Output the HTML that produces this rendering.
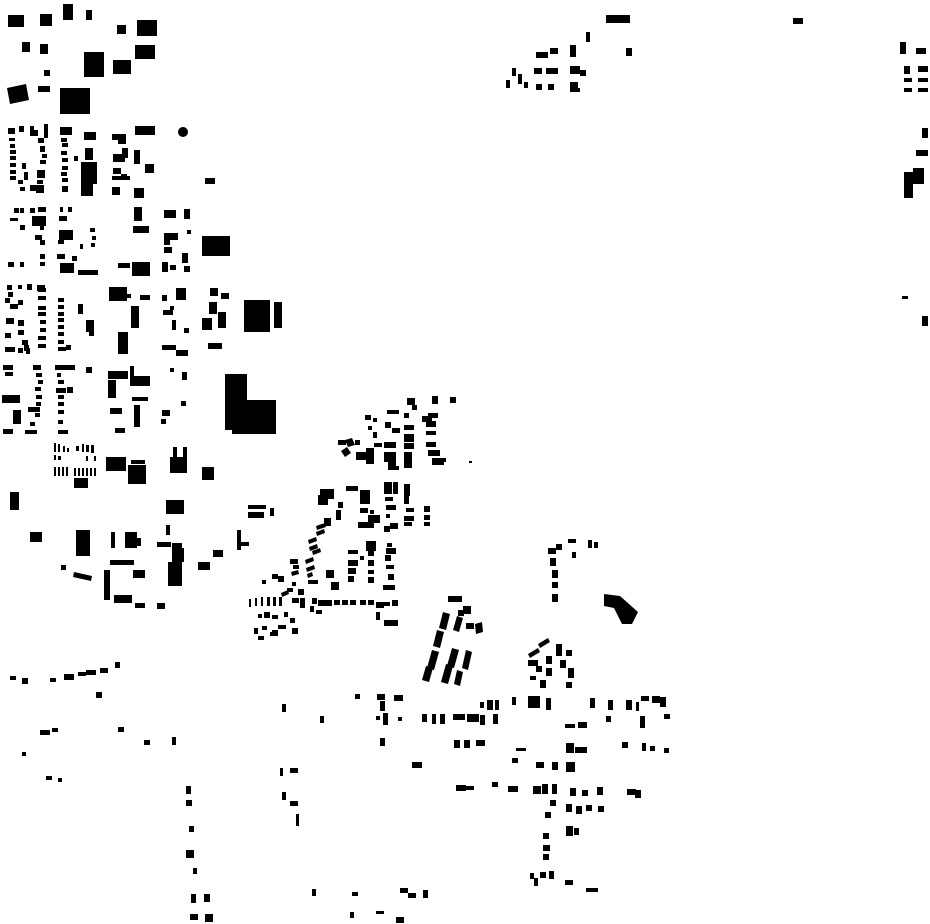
<!DOCTYPE html>
<html><head><meta charset="utf-8"><style>html,body{margin:0;padding:0;background:#fff;width:930px;height:924px;overflow:hidden}svg{display:block}</style></head>
<body>
<svg width="930" height="924" viewBox="0 0 930 924" xmlns="http://www.w3.org/2000/svg">
<g fill="#000">
<!-- top-left -->
<rect x="8" y="15" width="16" height="12"/><rect x="40" y="14" width="12" height="12"/><rect x="63" y="4" width="10" height="16"/><rect x="86" y="10" width="6" height="10"/><rect x="117" y="25" width="9" height="9"/><rect x="137" y="20" width="20" height="16"/>
<rect x="22" y="42" width="8" height="10"/><rect x="40" y="44" width="8" height="10"/><rect x="84" y="52" width="20" height="25"/><rect x="113" y="60" width="18" height="14"/><rect x="135" y="45" width="20" height="14"/><rect x="44" y="70" width="6" height="6"/>
<polygon points="7,88 26,84 29,100 10,104"/><rect x="38" y="86" width="12" height="6"/><rect x="60" y="88" width="30" height="26"/>
<rect x="8" y="128" width="7" height="6"/><rect x="19" y="126" width="5" height="6"/><rect x="30" y="126" width="4" height="10"/><rect x="34" y="130" width="4" height="6"/><rect x="44" y="124" width="4" height="14"/>
<rect x="9" y="138" width="6" height="3"/><rect x="10" y="144" width="5" height="4"/><rect x="10" y="150" width="6" height="4"/><rect x="10" y="156" width="6" height="4"/><rect x="10" y="163" width="6" height="4"/><rect x="10" y="170" width="6" height="4"/><rect x="10" y="176" width="6" height="4"/><rect x="22" y="163" width="4" height="6"/><rect x="24" y="172" width="4" height="8"/><rect x="18" y="180" width="5" height="4"/><rect x="20" y="187" width="5" height="4"/>
<rect x="38" y="138" width="6" height="5"/><rect x="40" y="146" width="5" height="6"/><rect x="42" y="154" width="5" height="4"/><rect x="40" y="160" width="6" height="4"/><rect x="37" y="170" width="8" height="8"/><rect x="37" y="180" width="6" height="4"/><rect x="30" y="185" width="6" height="6"/><rect x="36" y="185" width="8" height="8"/>
<rect x="60" y="127" width="12" height="8"/><rect x="61" y="138" width="6" height="4"/><rect x="62" y="143" width="6" height="4"/><rect x="61" y="151" width="6" height="4"/><rect x="62" y="158" width="6" height="4"/><rect x="62" y="166" width="6" height="4"/><rect x="61" y="172" width="6" height="4"/><rect x="62" y="178" width="6" height="4"/><rect x="62" y="186" width="6" height="6"/><rect x="74" y="156" width="4" height="5"/>
<rect x="84" y="132" width="12" height="8"/><rect x="85" y="148" width="8" height="12"/><rect x="81" y="162" width="16" height="22"/><rect x="81" y="182" width="12" height="14"/>
<rect x="112" y="134" width="14" height="6"/><rect x="118" y="140" width="8" height="4"/><rect x="122" y="148" width="6" height="10"/><rect x="134" y="150" width="6" height="14"/><rect x="113" y="154" width="12" height="8"/><rect x="113" y="168" width="8" height="6"/><rect x="112" y="176" width="18" height="4"/><rect x="121" y="174" width="6" height="4"/><rect x="112" y="187" width="8" height="8"/><rect x="134" y="188" width="10" height="10"/>
<rect x="135" y="126" width="20" height="9"/><rect x="145" y="164" width="9" height="9"/><circle cx="183" cy="132" r="5"/><rect x="205" y="178" width="10" height="6"/>
<rect x="14" y="208" width="5" height="5"/><rect x="20" y="208" width="4" height="5"/><rect x="30" y="208" width="5" height="5"/><rect x="38" y="207" width="8" height="5"/><rect x="10" y="218" width="8" height="3"/><rect x="20" y="225" width="5" height="5"/><rect x="32" y="216" width="14" height="10"/><rect x="40" y="226" width="4" height="4"/><rect x="35" y="235" width="7" height="5"/><rect x="40" y="240" width="5" height="5"/><rect x="8" y="262" width="6" height="5"/><rect x="20" y="262" width="4" height="5"/><rect x="40" y="262" width="5" height="4"/><rect x="40" y="254" width="5" height="5"/>
<rect x="60" y="207" width="3" height="5"/><rect x="68" y="207" width="4" height="5"/><rect x="59" y="216" width="8" height="5"/><rect x="59" y="230" width="14" height="10"/><rect x="58" y="240" width="6" height="4"/><rect x="80" y="244" width="3" height="5"/><rect x="90" y="228" width="5" height="4"/><rect x="92" y="236" width="4" height="4"/><rect x="91" y="243" width="4" height="4"/><rect x="57" y="254" width="8" height="5"/><rect x="72" y="256" width="5" height="5"/><rect x="60" y="263" width="14" height="10"/><rect x="78" y="270" width="20" height="5"/>
<rect x="134" y="207" width="8" height="14"/><rect x="133" y="226" width="16" height="7"/><rect x="164" y="210" width="12" height="8"/><rect x="184" y="209" width="6" height="10"/><rect x="164" y="233" width="14" height="7"/><rect x="164" y="240" width="6" height="5"/><rect x="164" y="247" width="8" height="6"/><rect x="182" y="253" width="6" height="10"/><rect x="162" y="262" width="6" height="10"/><rect x="170" y="265" width="6" height="5"/><rect x="184" y="266" width="6" height="6"/><rect x="118" y="263" width="12" height="5"/><rect x="132" y="262" width="18" height="14"/><rect x="187" y="230" width="4" height="4"/><rect x="202" y="236" width="28" height="20"/>
<rect x="7" y="285" width="5" height="5"/><rect x="18" y="285" width="4" height="4"/><rect x="8" y="292" width="5" height="5"/><rect x="27" y="284" width="5" height="6"/><rect x="37" y="285" width="8" height="6"/><rect x="5" y="298" width="5" height="5"/><rect x="10" y="304" width="8" height="5"/><rect x="18" y="300" width="5" height="5"/><rect x="38" y="288" width="8" height="4"/><rect x="38" y="296" width="8" height="4"/><rect x="38" y="306" width="8" height="4"/><rect x="38" y="312" width="8" height="4"/><rect x="40" y="320" width="6" height="4"/><rect x="40" y="328" width="6" height="4"/><rect x="38" y="336" width="8" height="4"/><rect x="38" y="344" width="8" height="4"/><rect x="18" y="330" width="6" height="5"/><rect x="22" y="340" width="6" height="5"/><rect x="24" y="345" width="5" height="6"/><rect x="18" y="320" width="6" height="6"/><rect x="6" y="318" width="8" height="6"/><rect x="5" y="333" width="6" height="5"/><rect x="5" y="347" width="10" height="5"/><rect x="18" y="348" width="5" height="5"/><rect x="26" y="348" width="4" height="6"/>
<rect x="58" y="298" width="6" height="4"/><rect x="58" y="305" width="6" height="4"/><rect x="58" y="312" width="6" height="4"/><rect x="58" y="318" width="6" height="4"/><rect x="58" y="325" width="6" height="4"/><rect x="58" y="332" width="6" height="4"/><rect x="58" y="340" width="6" height="4"/><rect x="58" y="347" width="8" height="4"/><rect x="66" y="345" width="5" height="5"/><rect x="78" y="304" width="5" height="10"/><rect x="86" y="320" width="8" height="12"/><rect x="89" y="332" width="5" height="4"/>
<rect x="109" y="287" width="18" height="14"/><rect x="125" y="294" width="6" height="4"/><rect x="140" y="295" width="10" height="5"/><rect x="131" y="306" width="8" height="22"/><rect x="118" y="332" width="10" height="22"/><rect x="162" y="295" width="5" height="6"/><rect x="176" y="288" width="10" height="12"/><rect x="163" y="310" width="10" height="5"/><rect x="170" y="306" width="4" height="4"/><rect x="172" y="320" width="4" height="10"/><rect x="184" y="328" width="5" height="5"/><rect x="162" y="345" width="14" height="5"/><rect x="176" y="350" width="12" height="6"/>
<rect x="202" y="318" width="10" height="12"/><rect x="209" y="302" width="8" height="12"/><rect x="210" y="288" width="8" height="8"/><rect x="208" y="343" width="14" height="6"/><rect x="221" y="293" width="8" height="6"/><rect x="218" y="312" width="8" height="16"/>
<rect x="244" y="300" width="26" height="32"/><rect x="274" y="302" width="8" height="26"/>
<!-- 360-620 left -->
<rect x="3" y="365" width="10" height="5"/><rect x="5" y="372" width="8" height="4"/><rect x="33" y="365" width="8" height="5"/><rect x="36" y="373" width="6" height="4"/><rect x="38" y="380" width="5" height="4"/><rect x="35" y="387" width="6" height="4"/><rect x="36" y="395" width="6" height="4"/><rect x="36" y="402" width="5" height="4"/><rect x="28" y="407" width="12" height="5"/><rect x="35" y="413" width="5" height="4"/><rect x="30" y="422" width="5" height="4"/><rect x="25" y="430" width="12" height="4"/>
<rect x="55" y="365" width="20" height="5"/><rect x="57" y="373" width="4" height="4"/><rect x="58" y="380" width="6" height="4"/><rect x="56" y="388" width="10" height="5"/><rect x="58" y="395" width="6" height="4"/><rect x="58" y="402" width="6" height="4"/><rect x="58" y="410" width="6" height="4"/><rect x="58" y="420" width="5" height="4"/><rect x="58" y="430" width="10" height="4"/><rect x="67" y="387" width="6" height="6"/><rect x="86" y="367" width="6" height="6"/>
<rect x="2" y="395" width="18" height="8"/><rect x="13" y="410" width="8" height="14"/><rect x="3" y="429" width="10" height="5"/>
<rect x="108" y="371" width="20" height="8"/><rect x="108" y="380" width="8" height="18"/><rect x="130" y="366" width="4" height="10"/><rect x="130" y="376" width="20" height="10"/><rect x="132" y="397" width="16" height="4"/><rect x="110" y="408" width="12" height="6"/><rect x="134" y="405" width="6" height="22"/><rect x="115" y="428" width="10" height="5"/>
<rect x="170" y="368" width="4" height="4"/><rect x="182" y="372" width="5" height="8"/><rect x="181" y="401" width="5" height="5"/><rect x="162" y="410" width="8" height="6"/><rect x="161" y="419" width="5" height="5"/>
<rect x="225" y="374" width="22" height="56"/><rect x="232" y="400" width="44" height="34"/>
<rect x="54" y="443" width="2" height="9"/><rect x="58" y="444" width="2" height="8"/><rect x="63" y="446" width="2" height="6"/><rect x="67" y="448" width="2" height="4"/><rect x="76" y="446" width="3" height="5"/><rect x="82" y="444" width="2" height="8"/><rect x="86" y="445" width="3" height="7"/><rect x="91" y="445" width="3" height="8"/><rect x="54" y="455" width="2" height="5"/><rect x="58" y="456" width="3" height="4"/><rect x="86" y="456" width="2" height="5"/><rect x="94" y="456" width="2" height="5"/>
<rect x="54" y="467" width="2" height="9"/><rect x="58" y="467" width="2" height="9"/><rect x="62" y="467" width="2" height="9"/><rect x="66" y="467" width="2" height="9"/><rect x="74" y="468" width="2" height="8"/><rect x="78" y="468" width="2" height="8"/><rect x="82" y="468" width="2" height="8"/><rect x="86" y="468" width="2" height="8"/><rect x="90" y="468" width="2" height="8"/><rect x="94" y="468" width="2" height="8"/><rect x="74" y="478" width="14" height="10"/>
<rect x="106" y="457" width="20" height="14"/><rect x="128" y="465" width="18" height="19"/><rect x="131" y="460" width="14" height="4"/>
<rect x="173" y="447" width="4" height="10"/><rect x="183" y="447" width="4" height="10"/><rect x="170" y="457" width="17" height="16"/><rect x="202" y="467" width="12" height="13"/>
<rect x="10" y="492" width="9" height="18"/>
<rect x="30" y="532" width="12" height="10"/><rect x="76" y="530" width="14" height="26"/>
<rect x="111" y="532" width="4" height="16"/><rect x="125" y="532" width="12" height="16"/><rect x="135" y="538" width="6" height="8"/><rect x="166" y="500" width="18" height="14"/><rect x="166" y="525" width="4" height="10"/><rect x="157" y="542" width="14" height="5"/><rect x="172" y="543" width="10" height="5"/><rect x="172" y="548" width="12" height="14"/><rect x="168" y="562" width="14" height="24"/><rect x="198" y="562" width="12" height="8"/><rect x="213" y="550" width="10" height="7"/><rect x="237" y="530" width="4" height="20"/><rect x="237" y="542" width="12" height="4"/><rect x="248" y="505" width="18" height="4"/><rect x="248" y="512" width="16" height="6"/>
<rect x="61" y="565" width="5" height="5"/><polygon points="74,572 92,576 91,581 73,577"/><rect x="104" y="570" width="6" height="30"/><rect x="110" y="560" width="24" height="5"/><rect x="133" y="570" width="12" height="8"/><rect x="114" y="595" width="18" height="8"/><rect x="135" y="603" width="10" height="5"/><rect x="157" y="603" width="8" height="6"/>
<!-- top middle -->
<rect x="606" y="15" width="24" height="8"/><rect x="536" y="52" width="12" height="6"/><rect x="550" y="48" width="8" height="6"/><rect x="570" y="45" width="6" height="12"/><rect x="586" y="32" width="4" height="10"/><rect x="626" y="48" width="6" height="8"/><rect x="512" y="68" width="4" height="8"/><rect x="518" y="74" width="4" height="10"/><rect x="506" y="80" width="4" height="8"/><rect x="524" y="82" width="4" height="6"/><rect x="534" y="68" width="8" height="6"/><rect x="546" y="68" width="12" height="6"/><rect x="570" y="66" width="10" height="8"/><rect x="580" y="70" width="6" height="6"/><rect x="536" y="84" width="6" height="6"/><rect x="548" y="84" width="6" height="6"/><rect x="570" y="82" width="8" height="6"/><rect x="570" y="88" width="10" height="4"/><rect x="793" y="18" width="10" height="6"/>
<!-- right edge -->
<rect x="900" y="42" width="6" height="12"/><rect x="916" y="48" width="10" height="6"/><rect x="904" y="66" width="6" height="8"/><rect x="918" y="66" width="10" height="6"/><rect x="904" y="78" width="8" height="4"/><rect x="918" y="78" width="10" height="4"/><rect x="904" y="88" width="8" height="4"/><rect x="918" y="88" width="10" height="4"/><rect x="922" y="128" width="6" height="10"/><rect x="916" y="150" width="12" height="6"/><rect x="904" y="172" width="9" height="26"/><rect x="913" y="168" width="11" height="16"/><rect x="902" y="296" width="6" height="3"/><rect x="922" y="316" width="6" height="10"/>
<!-- middle cluster 335-470, 395-470 -->
<rect x="407" y="398" width="8" height="7"/><rect x="432" y="396" width="6" height="8"/><rect x="450" y="397" width="6" height="6"/><rect x="387" y="410" width="12" height="4"/><rect x="404" y="413" width="5" height="5"/><rect x="412" y="405" width="5" height="5"/><rect x="422" y="416" width="10" height="6"/><rect x="428" y="413" width="10" height="5"/><rect x="385" y="422" width="6" height="6"/><rect x="392" y="428" width="8" height="5"/><rect x="404" y="425" width="10" height="5"/><rect x="426" y="421" width="10" height="6"/><rect x="426" y="431" width="10" height="4"/><rect x="426" y="442" width="10" height="5"/><rect x="428" y="450" width="12" height="6"/><rect x="432" y="458" width="12" height="7"/><rect x="442" y="458" width="4" height="4"/><rect x="469" y="461" width="3" height="2"/>
<rect x="365" y="415" width="6" height="5"/><rect x="368" y="426" width="4" height="4"/><rect x="373" y="418" width="4" height="4"/><rect x="373" y="432" width="4" height="6"/><rect x="338" y="440" width="8" height="5"/><polygon points="345,440 352,438 355,445 348,447"/><rect x="355" y="440" width="5" height="5"/><polygon points="341,451 347,447 351,453 345,457"/><rect x="356" y="452" width="12" height="8"/><rect x="366" y="448" width="8" height="16"/><rect x="374" y="443" width="8" height="4"/><rect x="384" y="442" width="12" height="6"/><rect x="384" y="452" width="12" height="10"/><rect x="388" y="462" width="8" height="8"/><rect x="404" y="434" width="10" height="8"/><rect x="404" y="443" width="10" height="6"/><rect x="404" y="452" width="8" height="8"/><rect x="404" y="460" width="8" height="8"/><rect x="393" y="466" width="6" height="4"/>
<!-- cluster 240-430, 480-630 -->
<rect x="320" y="489" width="14" height="10"/><rect x="318" y="495" width="10" height="10"/><rect x="346" y="486" width="12" height="5"/><rect x="360" y="490" width="10" height="14"/><rect x="338" y="502" width="5" height="6"/><rect x="336" y="510" width="5" height="10"/><rect x="360" y="508" width="8" height="5"/><rect x="370" y="510" width="4" height="4"/><rect x="368" y="515" width="12" height="8"/><rect x="384" y="482" width="8" height="12"/><rect x="393" y="482" width="5" height="12"/><rect x="404" y="484" width="6" height="12"/><rect x="404" y="496" width="5" height="8"/><rect x="385" y="497" width="8" height="4"/><rect x="386" y="505" width="10" height="5"/><rect x="386" y="514" width="4" height="4"/><rect x="390" y="523" width="8" height="6"/><rect x="384" y="526" width="6" height="6"/><rect x="358" y="522" width="16" height="6"/><rect x="406" y="508" width="8" height="4"/><rect x="404" y="516" width="10" height="5"/><rect x="404" y="522" width="8" height="4"/><rect x="424" y="506" width="6" height="6"/><rect x="424" y="515" width="6" height="5"/><rect x="424" y="522" width="6" height="4"/>
<rect x="270" y="508" width="4" height="8"/><rect x="324" y="518" width="7" height="8"/><polygon points="316,526 325,523 326,527 317,530"/><polygon points="316,532 324,529 325,533 317,536"/>
<polygon points="308,540 316,537 317,541 309,544"/><polygon points="309,547 317,544 318,548 310,551"/><polygon points="312,551 320,548 321,552 313,555"/><polygon points="305,560 313,557 314,561 306,564"/><polygon points="306,568 314,565 315,569 307,572"/><polygon points="307,574 312,572 313,576 308,578"/>
<rect x="348" y="550" width="10" height="4"/><rect x="366" y="541" width="10" height="10"/><rect x="386" y="548" width="10" height="6"/><rect x="385" y="555" width="6" height="6"/><rect x="387" y="543" width="5" height="4"/><rect x="348" y="560" width="10" height="6"/><rect x="348" y="568" width="8" height="6"/><rect x="348" y="576" width="6" height="6"/><rect x="368" y="550" width="6" height="6"/><rect x="368" y="560" width="6" height="6"/><rect x="368" y="570" width="6" height="4"/><rect x="368" y="577" width="6" height="6"/><rect x="386" y="565" width="8" height="4"/><rect x="388" y="574" width="6" height="6"/><rect x="383" y="585" width="12" height="5"/><rect x="360" y="556" width="4" height="4"/>
<rect x="290" y="559" width="8" height="5"/><rect x="293" y="565" width="6" height="4"/><polygon points="291,572 298,570 299,574 292,576"/><rect x="326" y="570" width="8" height="8"/><rect x="331" y="582" width="8" height="8"/>
<rect x="262" y="580" width="4" height="4"/><rect x="272" y="574" width="6" height="5"/><rect x="278" y="576" width="6" height="6"/><rect x="292" y="582" width="4" height="4"/><rect x="287" y="588" width="6" height="4"/><polygon points="281,593 288,590 289,594 282,597"/><rect x="308" y="580" width="10" height="4"/><rect x="300" y="598" width="5" height="6"/><rect x="300" y="604" width="5" height="4"/><rect x="298" y="589" width="6" height="6"/>
<rect x="249" y="599" width="2" height="8"/><rect x="255" y="598" width="2" height="8"/><rect x="261" y="597" width="2" height="9"/><rect x="267" y="597" width="3" height="9"/><rect x="273" y="597" width="3" height="9"/><rect x="279" y="597" width="3" height="9"/><rect x="292" y="598" width="7" height="5"/><rect x="312" y="598" width="5" height="6"/><rect x="318" y="600" width="14" height="6"/><rect x="334" y="600" width="6" height="5"/><rect x="342" y="600" width="6" height="5"/><rect x="350" y="600" width="6" height="5"/><rect x="360" y="600" width="6" height="5"/><rect x="368" y="600" width="6" height="5"/><rect x="376" y="602" width="8" height="6"/><rect x="384" y="602" width="6" height="4"/><rect x="392" y="600" width="6" height="6"/>
<rect x="258" y="614" width="4" height="4"/><rect x="264" y="612" width="6" height="6"/><rect x="272" y="615" width="6" height="4"/><rect x="290" y="618" width="5" height="5"/><rect x="284" y="612" width="4" height="5"/><rect x="262" y="626" width="5" height="4"/><rect x="272" y="630" width="6" height="6"/><rect x="278" y="625" width="8" height="4"/><rect x="270" y="632" width="4" height="4"/><rect x="292" y="628" width="6" height="6"/><rect x="316" y="610" width="6" height="4"/><rect x="310" y="606" width="4" height="6"/><rect x="384" y="620" width="14" height="6"/><rect x="376" y="612" width="4" height="8"/><rect x="254" y="628" width="4" height="6"/><rect x="258" y="636" width="6" height="4"/>
<rect x="448" y="596" width="14" height="6"/><rect x="463" y="606" width="8" height="8"/><rect x="458" y="610" width="6" height="6"/><rect x="466" y="623" width="8" height="6"/><polygon points="475,624 482,622 483,632 476,634"/>
<polygon points="443,612 450,614 446,630 439,628"/><polygon points="437,630 444,632 440,648 433,646"/><polygon points="457,616 463,618 459,632 453,630"/><polygon points="432,650 439,652 434,670 427,668"/><polygon points="426,666 433,668 429,682 422,680"/><polygon points="452,648 459,650 454,668 447,666"/><polygon points="446,664 453,666 448,684 441,682"/><polygon points="466,650 472,652 468,670 462,668"/><polygon points="457,670 463,672 460,686 454,684"/>
<!-- cluster 525-580, 630-690 -->
<polygon points="538,644 548,638 550,642 540,648"/><polygon points="528,654 538,648 540,652 530,658"/><rect x="528" y="660" width="10" height="6"/><rect x="536" y="666" width="6" height="6"/><rect x="546" y="656" width="6" height="8"/><rect x="546" y="668" width="6" height="8"/><rect x="540" y="680" width="6" height="8"/><rect x="530" y="676" width="6" height="4"/><rect x="556" y="644" width="6" height="12"/><rect x="560" y="660" width="6" height="8"/><rect x="566" y="650" width="6" height="6"/><rect x="568" y="668" width="6" height="10"/><rect x="566" y="682" width="6" height="6"/>
<!-- cluster 540-600, 535-605 -->
<rect x="548" y="548" width="8" height="6"/><rect x="556" y="544" width="6" height="6"/><rect x="568" y="539" width="8" height="4"/><rect x="588" y="540" width="4" height="8"/><rect x="594" y="542" width="4" height="6"/><rect x="572" y="552" width="4" height="6"/><rect x="550" y="558" width="6" height="8"/><rect x="552" y="570" width="6" height="8"/><rect x="552" y="582" width="6" height="6"/><rect x="552" y="594" width="6" height="8"/>
<polygon points="604,594 620,596 638,612 632,624 622,624 614,608 604,606"/>
<!-- bottom area -->
<rect x="282" y="704" width="4" height="8"/><rect x="320" y="716" width="4" height="7"/><rect x="355" y="694" width="5" height="5"/><rect x="377" y="694" width="8" height="6"/><rect x="380" y="701" width="5" height="10"/><rect x="394" y="695" width="9" height="6"/><rect x="376" y="716" width="4" height="4"/><rect x="383" y="713" width="5" height="12"/><rect x="398" y="717" width="4" height="4"/><rect x="422" y="714" width="5" height="8"/><rect x="432" y="714" width="4" height="10"/><rect x="440" y="714" width="5" height="10"/><rect x="453" y="714" width="12" height="6"/><rect x="467" y="714" width="12" height="8"/><rect x="480" y="715" width="5" height="10"/><rect x="493" y="714" width="5" height="10"/><rect x="380" y="738" width="5" height="8"/>
<rect x="480" y="702" width="4" height="6"/><rect x="487" y="700" width="6" height="10"/><rect x="495" y="700" width="4" height="10"/><rect x="512" y="697" width="4" height="8"/><rect x="528" y="696" width="12" height="12"/><rect x="546" y="698" width="5" height="12"/><rect x="590" y="698" width="5" height="10"/><rect x="608" y="700" width="5" height="10"/><rect x="626" y="700" width="6" height="10"/><rect x="636" y="702" width="3" height="9"/><rect x="641" y="696" width="8" height="5"/><rect x="652" y="696" width="8" height="7"/><rect x="660" y="697" width="6" height="10"/><rect x="664" y="714" width="6" height="5"/>
<rect x="565" y="724" width="10" height="4"/><rect x="578" y="722" width="9" height="6"/><rect x="606" y="716" width="5" height="6"/><rect x="640" y="716" width="5" height="12"/>
<rect x="454" y="740" width="6" height="8"/><rect x="464" y="740" width="6" height="8"/><rect x="476" y="740" width="9" height="6"/><rect x="516" y="748" width="10" height="3"/><rect x="512" y="758" width="6" height="5"/><rect x="566" y="743" width="8" height="10"/><rect x="575" y="747" width="12" height="6"/><rect x="622" y="742" width="6" height="6"/><rect x="642" y="743" width="4" height="8"/><rect x="650" y="746" width="5" height="5"/><rect x="664" y="748" width="5" height="5"/>
<rect x="280" y="768" width="3" height="8"/><rect x="290" y="768" width="8" height="5"/><rect x="412" y="762" width="10" height="6"/><rect x="536" y="762" width="8" height="6"/><rect x="552" y="762" width="6" height="8"/><rect x="566" y="762" width="9" height="10"/>
<rect x="282" y="792" width="4" height="8"/><rect x="290" y="801" width="8" height="5"/><rect x="296" y="814" width="3" height="12"/>
<rect x="456" y="785" width="10" height="6"/><rect x="466" y="786" width="8" height="4"/><rect x="492" y="782" width="6" height="5"/><rect x="508" y="786" width="10" height="6"/><rect x="533" y="786" width="8" height="8"/><rect x="542" y="784" width="6" height="10"/><rect x="552" y="784" width="5" height="10"/><rect x="570" y="788" width="6" height="8"/><rect x="582" y="790" width="6" height="6"/><rect x="597" y="787" width="6" height="8"/><rect x="627" y="789" width="9" height="6"/><rect x="635" y="790" width="6" height="8"/>
<rect x="550" y="800" width="6" height="6"/><rect x="545" y="812" width="6" height="6"/><rect x="543" y="833" width="6" height="6"/><rect x="543" y="845" width="7" height="6"/><rect x="543" y="854" width="6" height="6"/><rect x="566" y="826" width="7" height="10"/><rect x="574" y="828" width="5" height="7"/><rect x="576" y="806" width="6" height="8"/><rect x="566" y="804" width="6" height="8"/><rect x="586" y="805" width="6" height="6"/><rect x="598" y="806" width="6" height="6"/>
<rect x="530" y="873" width="4" height="6"/><rect x="534" y="878" width="4" height="8"/><rect x="540" y="872" width="6" height="6"/><rect x="549" y="871" width="5" height="8"/><rect x="565" y="880" width="8" height="5"/><rect x="586" y="888" width="12" height="4"/>
<rect x="312" y="889" width="4" height="7"/><rect x="352" y="892" width="6" height="4"/><rect x="400" y="888" width="8" height="5"/><rect x="408" y="893" width="8" height="5"/><rect x="423" y="890" width="5" height="8"/><rect x="350" y="912" width="4" height="6"/><rect x="376" y="911" width="8" height="3"/><rect x="396" y="917" width="8" height="6"/>
<rect x="186" y="786" width="5" height="8"/><rect x="186" y="800" width="6" height="6"/><rect x="189" y="826" width="5" height="6"/><rect x="186" y="850" width="8" height="8"/><rect x="193" y="868" width="4" height="6"/><rect x="191" y="894" width="5" height="9"/><rect x="204" y="894" width="6" height="8"/><rect x="190" y="914" width="8" height="6"/><rect x="205" y="914" width="8" height="8"/>
<!-- left bottom -->
<rect x="10" y="676" width="6" height="4"/><rect x="22" y="678" width="6" height="6"/><rect x="50" y="678" width="6" height="4"/><rect x="64" y="674" width="10" height="6"/><rect x="78" y="672" width="8" height="4"/><rect x="86" y="670" width="10" height="5"/><rect x="100" y="668" width="8" height="5"/><rect x="115" y="662" width="5" height="6"/><rect x="96" y="692" width="6" height="6"/><rect x="40" y="730" width="10" height="5"/><rect x="52" y="728" width="6" height="4"/><rect x="118" y="727" width="6" height="5"/><rect x="144" y="740" width="6" height="5"/><rect x="172" y="737" width="4" height="8"/><rect x="22" y="752" width="4" height="4"/><rect x="46" y="776" width="6" height="4"/><rect x="58" y="778" width="4" height="4"/>
</g>
</svg>
</body></html>
